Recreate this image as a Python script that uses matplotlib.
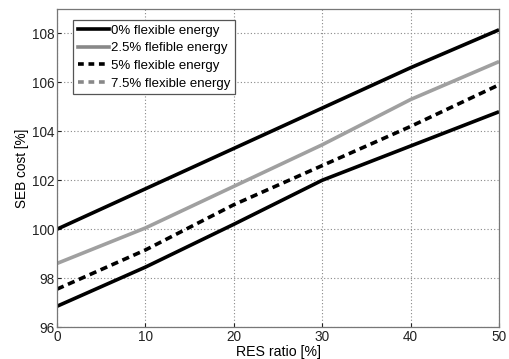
import matplotlib
matplotlib.use("Agg")
import matplotlib.pyplot as plt
from matplotlib.lines import Line2D

res_ratio = [0, 10, 20, 30, 40, 50]
flex_0 = [100.0, 101.65, 103.3, 104.95, 106.6, 108.15]
flex_2_5 = [98.6, 100.05, 101.75, 103.45, 105.3, 106.85]
flex_5 = [97.55, 99.15, 101.0, 102.6, 104.2, 105.9]
flex_7_5 = [96.85, 98.45, 100.2, 102.0, 103.4, 104.8]
labels = ["0% flexible energy", "2.5% flefible energy",
          "5% flexible energy", "7.5% flexible energy"]
x_ticks = [0, 10, 20, 30, 40, 50]
y_ticks = [96, 98, 100, 102, 104, 106, 108]

plt.rcParams['font.family'] = ['Liberation Sans', 'DejaVu Sans']
fig = plt.figure(figsize=(5.10, 3.59), dpi=100)
ax = fig.add_axes([0.1118, 0.089, 0.8667, 0.886])

gray = "#a0a0a0"
lw = 2.6
ax.plot(res_ratio, flex_0, color="black", lw=lw, solid_capstyle="butt")
ax.plot(res_ratio, flex_2_5, color=gray, lw=lw, solid_capstyle="butt")
ax.plot(res_ratio, flex_5, color="black", lw=lw, linestyle=(0, (2.0, 1.3)))
ax.plot(res_ratio, flex_7_5, color="black", lw=lw, solid_capstyle="butt")

ax.set_xlim(0, 50)
ax.set_ylim(96, 109)
ax.set_xticks(x_ticks)
ax.set_yticks(y_ticks)
ax.tick_params(direction="in", length=3, labelsize=9.8, colors="#222222", pad=2)
ax.grid(True, linestyle=(0, (1, 2)), color="#888888", lw=0.8)
for s in ax.spines.values():
    s.set_color("#777777")
    s.set_linewidth(0.9)

ax.set_xlabel("RES ratio [%]", fontsize=10.2, labelpad=1)
ax.set_ylabel("SEB cost [%]", fontsize=9.8, labelpad=2)

handles = [
    Line2D([], [], color="black", lw=lw),
    Line2D([], [], color="#888888", lw=lw),
    Line2D([], [], color="black", lw=lw, linestyle=(0, (1.6, 1.3))),
    Line2D([], [], color="#888888", lw=lw, linestyle=(0, (1.6, 1.3))),
]
leg = ax.legend(handles, labels, loc="upper left", bbox_to_anchor=(0.036, 0.965),
                borderaxespad=0, fontsize=9.5, handlelength=2.4, handletextpad=0.1,
                labelspacing=0.4, borderpad=0.35, fancybox=False, framealpha=1)
leg.get_frame().set_edgecolor("#555555")
leg.get_frame().set_linewidth(0.9)

fig.savefig("out.png", dpi=100)
